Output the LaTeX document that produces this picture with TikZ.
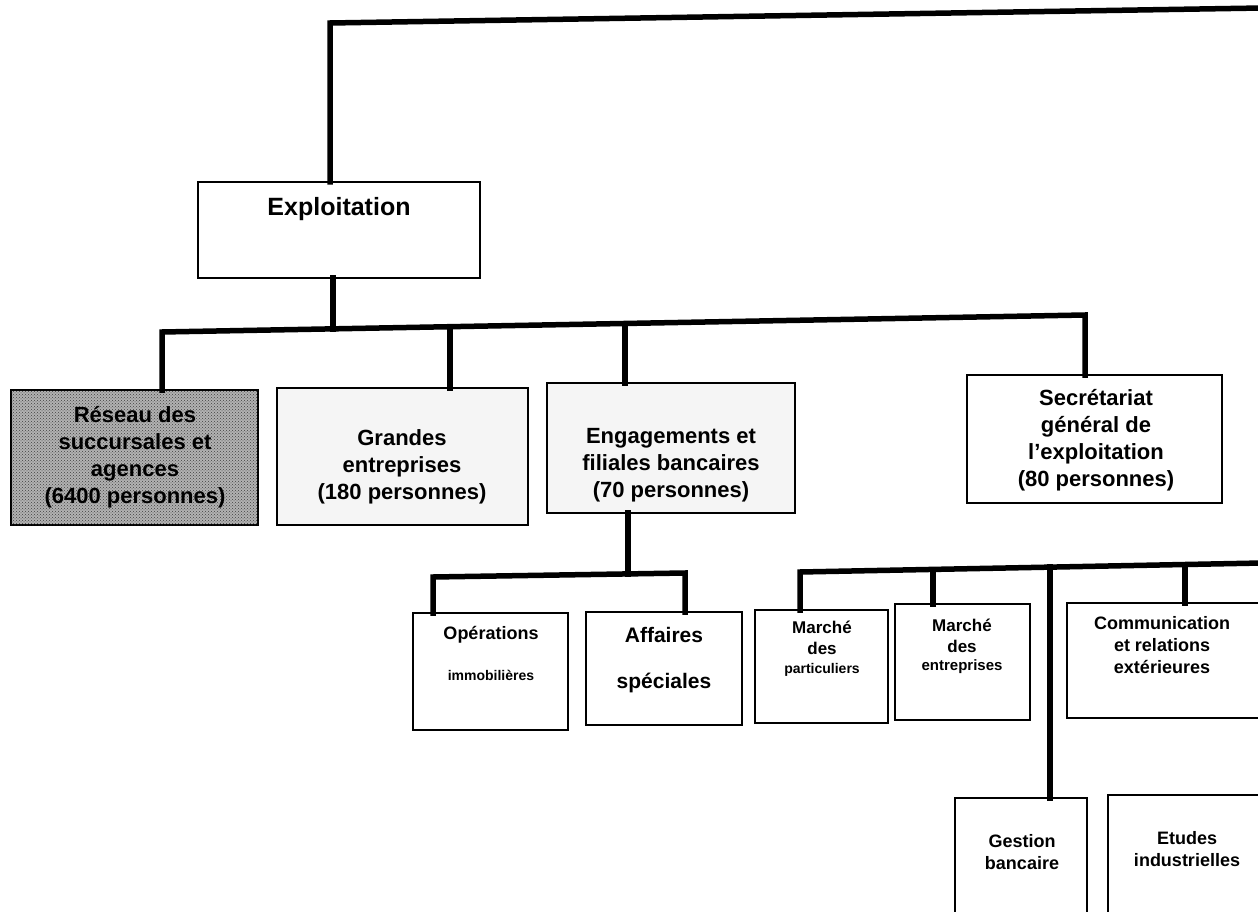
\documentclass[tikz,border=0pt]{standalone}
\usepackage{fontspec}
\setmainfont{Liberation Sans}
\usetikzlibrary{patterns}
\begin{document}
\begin{tikzpicture}[x=1pt,y=-1pt,
  box/.style={draw, line width=1.8pt, inner sep=0pt, outer sep=0pt, anchor=north west},
  conn/.style={line width=5.5pt, line cap=rect, line join=miter},
  big/.style={font=\bfseries\fontsize{22}{27}\selectfont, align=center, inner sep=0pt},
  mid/.style={font=\bfseries\fontsize{18}{22}\selectfont, align=center, inner sep=0pt},
  halftone/.style={fill=black!30, postaction={pattern=crosshatch dots, pattern color=black!75}},
]
\useasboundingbox (0,0) rectangle (1258,912);
\clip (0,0) rectangle (1258,912);
\fill[white] (0,0) rectangle (1258,912);

% boxes
\node[box, minimum width=282pt, minimum height=96pt] (expl) at (198,182) {};
\node[box, halftone, minimum width=247pt, minimum height=135pt] (res) at (11,390) {};
\node[box, fill=black!4, minimum width=251pt, minimum height=137pt] (gra) at (277,388) {};
\node[box, fill=black!4, minimum width=248pt, minimum height=130pt] (eng) at (547,383) {};
\node[box, minimum width=255pt, minimum height=128pt] (sec) at (967,375) {};
\node[box, minimum width=155pt, minimum height=117pt] (ope) at (413,613) {};
\node[box, minimum width=156pt, minimum height=113pt] (aff) at (586,612) {};
\node[box, minimum width=133pt, minimum height=113pt] (mpa) at (755,610) {};
\node[box, minimum width=135pt, minimum height=116pt] (men) at (895,604) {};
\node[box, minimum width=220pt, minimum height=115pt] (com) at (1067,603) {};
\node[box, minimum width=132pt, minimum height=140pt] (ges) at (955,798) {};
\node[box, minimum width=180pt, minimum height=140pt] (etu) at (1108,795) {};

% texts
\node[font=\bfseries\fontsize{25}{28}\selectfont, inner sep=0pt] (t-expl) at (339,209) {Exploitation};
\node[big] (t-res) at (135,457) {Réseau des\\succursales et\\agences\\(6400 personnes)};
\node[big] (t-gra) at (402,467) {Grandes\\entreprises\\(180 personnes)};
\node[big] (t-eng) at (671,465) {Engagements et\\filiales bancaires\\(70 personnes)};
\node[big] (t-sec) at (1096,440) {Secrétariat\\général de\\l’exploitation\\(80 personnes)};
\node[font=\bfseries\fontsize{18}{20}\selectfont, inner sep=0pt] (t-ope1) at (491,635) {Opérations};
\node[font=\bfseries\fontsize{14}{16}\selectfont, inner sep=0pt] (t-ope2) at (491,675) {immobilières};
\node[font=\bfseries\fontsize{21}{23}\selectfont, inner sep=0pt] (t-aff1) at (664,635) {Affaires};
\node[font=\bfseries\fontsize{21}{23}\selectfont, inner sep=0pt] (t-aff2) at (664,683) {spéciales};
\node[font=\bfseries\fontsize{17}{21}\selectfont, align=center, inner sep=0pt] (t-mpa1) at (822,638) {Marché\\des};
\node[font=\bfseries\fontsize{14}{16}\selectfont, inner sep=0pt] (t-mpa2) at (822,670) {particuliers};
\node[font=\bfseries\fontsize{17}{21}\selectfont, align=center, inner sep=0pt] (t-men1) at (962,636) {Marché\\des};
\node[font=\bfseries\fontsize{15}{16}\selectfont, inner sep=0pt] (t-men2) at (962,667) {entreprises};
\node[mid] (t-com) at (1162,645) {Communication\\et relations\\extérieures};
\node[mid] (t-ges) at (1022,852) {Gestion\\bancaire};
\node[mid] (t-etu) at (1187,849) {Etudes\\industrielles};

% connector coordinates
\coordinate (ctop1) at (330,23);
\coordinate (ctop2) at (1262,8);
\coordinate (cres) at (162,332);
\coordinate (cex) at (333,328.9);
\coordinate (cgra) at (450,326.7);
\coordinate (ceng) at (625,323.5);
\coordinate (csec) at (1085,315);
\coordinate (ceb) at (628,573.9);
\coordinate (cs1) at (433,577);
\coordinate (cs2) at (685,573);
\coordinate (cb1) at (800,572);
\coordinate (cb2) at (1262,563);
\coordinate (cmen) at (933,569.4);
\coordinate (cges) at (1050,567.1);
\coordinate (ccom) at (1185,564.4);

% connectors
\draw[conn] (ctop1 |- expl.north) -- (ctop1) -- (ctop2);
\draw[conn] (cex |- expl.south) -- (cex);
\draw[conn] (cres |- res.north) -- (cres) -- (csec) -- (csec |- sec.north);
\draw[conn] (cgra) -- (cgra |- gra.north);
\draw[conn] (ceng) -- (ceng |- eng.north);
\draw[conn] (ceb |- eng.south) -- (ceb);
\draw[conn] (cs1 |- ope.north) -- (cs1) -- (cs2) -- (cs2 |- aff.north);
\draw[conn] (cb1 |- mpa.north) -- (cb1) -- (cb2);
\draw[conn] (cmen) -- (cmen |- men.north);
\draw[conn] (cges) -- (cges |- ges.north);
\draw[conn] (ccom) -- (ccom |- com.north);
\end{tikzpicture}
\end{document}
